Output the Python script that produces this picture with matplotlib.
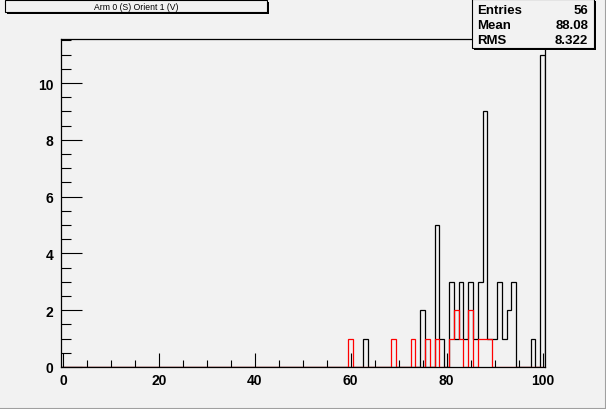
"""Recreate a ROOT-style histogram of orientation counts for Arm 0 (S), Orient 1 (V)."""
import matplotlib.pyplot as plt
import numpy as np
from matplotlib.patches import Rectangle
from matplotlib.ticker import MultipleLocator

# Non-empty bins (bin centres are whole numbers)
black_bins = [63, 75, 78, 79, 81, 82, 83, 84, 85, 86, 87, 88, 89, 90, 91, 92, 93, 94, 98, 100]
black_counts = [1, 2, 5, 1, 3, 1, 3, 1, 3, 1, 3, 9, 1, 1, 3, 1, 2, 3, 1, 11]
red_bins = [60, 69, 73, 76, 78, 81, 82, 83, 85, 87, 88, 89]
red_counts = [1, 1, 1, 1, 1, 1, 2, 1, 2, 1, 1, 1]

title_text = "Arm 0 (S) Orient 1 (V)"
stats_labels = ["Entries", "Mean", "RMS"]
stats_values = ["56", "88.08", "8.322"]
x_ticks = [0, 20, 40, 60, 80, 100]
y_ticks = [0, 2, 4, 6, 8, 10]

W, H = 606, 410
BG = '#f2f2f2'


def px(x, y):
    """Pixel position measured from the top-left corner -> figure fraction."""
    return x / W, 1 - y / H


def pave(fig, x0, y0, x1, y1):
    """Draw a ROOT-like pave with a drop shadow."""
    (fx0, fy1), (fx1, fy0) = px(x0, y0), px(x1, y1)
    sx, sy = 2 / W, 2 / H
    fig.add_artist(Rectangle((fx0 + sx, fy0 - sy), fx1 - fx0, fy1 - fy0,
                             transform=fig.transFigure, facecolor='black', edgecolor='black', lw=0))
    fig.add_artist(Rectangle((fx0, fy0), fx1 - fx0, fy1 - fy0,
                             transform=fig.transFigure, facecolor=BG, edgecolor='black', lw=0.8))


edges = np.arange(-0.5, 101.5, 1.0)
black = np.zeros(101)
black[black_bins] = black_counts
red = np.zeros(101)
red[red_bins] = red_counts

plt.rcParams['font.family'] = ['Liberation Sans', 'DejaVu Sans']

fig = plt.figure(figsize=(W / 100, H / 100), dpi=100, facecolor=BG)
left, bottom = px(60.5, 368)
right, top = px(545, 40)
ax = fig.add_axes([left, bottom, right - left, top - bottom], facecolor=BG)

ax.stairs(black, edges, color='black', lw=0.9, baseline=0)
ax.stairs(red, edges, color='red', lw=0.9, baseline=0)

ax.set_xlim(-0.5, 100.5)
ax.set_ylim(0, 11.55)
ax.set_xticks(x_ticks)
ax.set_yticks(y_ticks)
ax.xaxis.set_minor_locator(MultipleLocator(5))
ax.yaxis.set_minor_locator(MultipleLocator(0.5))
ax.tick_params(axis='x', which='major', direction='in', length=10, width=0.8, pad=4, labelsize=10)
ax.tick_params(axis='x', which='minor', direction='in', length=5, width=0.8)
ax.tick_params(axis='y', which='major', direction='in', length=15, width=0.8, pad=5, labelsize=10)
ax.tick_params(axis='y', which='minor', direction='in', length=7, width=0.8)
for lab in ax.get_xticklabels() + ax.get_yticklabels():
    lab.set_fontweight('bold')
for spine in ax.spines.values():
    spine.set_linewidth(0.9)

# title pave
pave(fig, 5, 1, 267, 13)
fig.text(*px(136, 7), title_text, ha='center', va='center', fontsize=6.2)

# statistics pave
pave(fig, 472, 0, 594, 49)
for i, (lab, val) in enumerate(zip(stats_labels, stats_values)):
    y = 10.5 + 15.3 * i
    fig.text(*px(477, y), lab, ha='left', va='center', fontsize=9.5, fontweight='bold')
    fig.text(*px(588, y), val, ha='right', va='center', fontsize=9.5, fontweight='bold')

# canvas border
fig.add_artist(plt.Line2D([0, 1], [0.5 / H, 0.5 / H], transform=fig.transFigure, color='#a0a0a0', lw=1.5))
fig.add_artist(plt.Line2D([1 - 0.5 / W, 1 - 0.5 / W], [0, 1], transform=fig.transFigure, color='#a0a0a0', lw=1.5))

fig.savefig('out.png', dpi=100, facecolor=BG)
